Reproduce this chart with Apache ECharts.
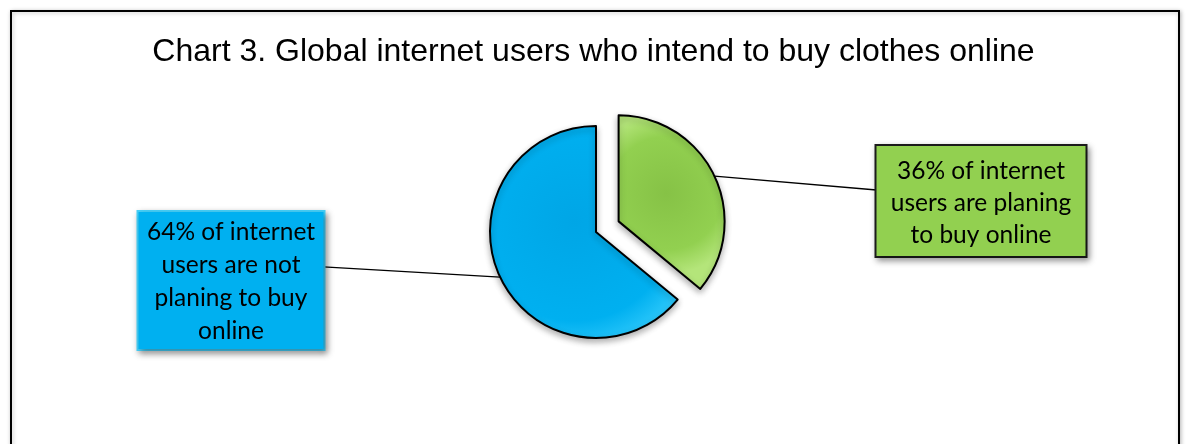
<!DOCTYPE html>
<html>
<head>
<meta charset="utf-8">
<style>
  html, body { margin: 0; padding: 0; background: #ffffff; }
  #chart { width: 1187px; height: 444px; }
</style>
<script src="https://cdn.jsdelivr.net/npm/echarts@6/dist/echarts.min.js"></script>
</head>
<body>
<div id="chart"></div>
<script>
// Share of global internet users by intention to buy clothes online (percent)
const categories = ['Planing to buy online', 'Not planing to buy online'];
const shares = [36, 64];
// Callout text per slice; {v} is replaced with the slice value
const calloutTexts = [
  '{v}% of internet\nusers are planing\nto buy online',
  '{v}% of internet\nusers are not\nplaning to buy\nonline'
];
const titleText = 'Chart 3. Global internet users who intend to buy clothes online';

const sliceColors = [
  { base: '#92D050', light: '#B4E57A', dark: '#86C246' },
  { base: '#00B0F0', light: '#3FD2FF', dark: '#00A6E6' }
];

// Callout box look and placement (cx = box centre, top = box top edge)
const boxStyles = [
  { bg: '#92D050', border: '#1c1c1c', w: 209, h: 96, pad: [9, 0, 5, 0], lh: 32, cx: 981, top: 146 },
  { bg: '#00B0F0', border: '#45CFF8', w: 185, h: 133, pad: [4, 0, 0, 0], lh: 33, cx: 231, top: 212 }
];

const pieCenter = [596, 232];
const pieRadius = 106;
const explodeIndex = 0;     // the slice pulled out of the pie
const explodeDistance = 25;

function sliceFill(c) {
  return {
    type: 'radial', x: 0.45, y: 0.45, r: 0.75,
    colorStops: [
      { offset: 0, color: c.dark },
      { offset: 0.7, color: c.base },
      { offset: 1, color: c.light }
    ]
  };
}

// Direction of the exploded slice: its mid angle, clockwise from 12 o'clock
const total = shares.reduce((a, b) => a + b, 0);
const before = shares.slice(0, explodeIndex).reduce((a, b) => a + b, 0);
const midAngle = (before + shares[explodeIndex] / 2) / total * 2 * Math.PI;
const explodedCenter = [
  pieCenter[0] + explodeDistance * Math.sin(midAngle),
  pieCenter[1] - explodeDistance * Math.cos(midAngle)
];

// Builds the data of one layer: only slice `visibleIndex` is drawn in it
function layerData(visibleIndex) {
  return categories.map((name, i) => {
    if (i !== visibleIndex) {
      return {
        name: name, value: shares[i],
        itemStyle: { color: 'rgba(0,0,0,0)', borderWidth: 0, shadowBlur: 0 },
        label: { show: false }, labelLine: { show: false }
      };
    }
    const b = boxStyles[i];
    return {
      name: name,
      value: shares[i],
      itemStyle: { color: sliceFill(sliceColors[i]) },
      label: {
        formatter: calloutTexts[i].replace('{v}', shares[i]),
        backgroundColor: b.bg,
        borderColor: b.border,
        borderWidth: 2,
        width: b.w,
        height: b.h,
        padding: b.pad,
        lineHeight: b.lh
      }
    };
  });
}

function pieLayer(visibleIndex, center) {
  return {
    type: 'pie',
    center: center,
    radius: [0, pieRadius],
    startAngle: 90,
    clockwise: true,
    avoidLabelOverlap: false,
    silent: true,
    itemStyle: {
      borderColor: '#000000',
      borderWidth: 2,
      shadowBlur: 6,
      shadowColor: 'rgba(0,0,0,0.3)',
      shadowOffsetY: 3
    },
    label: {
      show: true,
      position: 'outside',
      color: '#000000',
      fontFamily: 'Lato, "Open Sans", sans-serif',
      fontSize: 24.5,
      align: 'center',
      shadowBlur: 6,
      shadowColor: 'rgba(0,0,0,0.35)',
      shadowOffsetX: 2,
      shadowOffsetY: 3
    },
    labelLine: {
      show: true,
      lineStyle: { color: '#000000', width: 1.3 }
    },
    emphasis: { disabled: true },
    labelLayout: function (params) {
      const b = boxStyles[params.dataIndex];
      const start = params.labelLinePoints ? params.labelLinePoints[0] : null;
      const boxW = b.w + b.pad[1] + b.pad[3];
      const boxH = b.h + b.pad[0] + b.pad[2];
      const edgeX = start && start[0] > b.cx ? b.cx + boxW / 2 : b.cx - boxW / 2;
      const out = { x: b.cx, y: b.top, align: 'center', verticalAlign: 'top' };
      if (start) {
        out.labelLinePoints = [start, [edgeX, b.top + boxH * 0.4]];
      }
      return out;
    },
    data: layerData(visibleIndex)
  };
}

const chart = echarts.init(document.getElementById('chart'), null, { renderer: 'canvas' });

chart.setOption({
  animation: false,
  backgroundColor: '#ffffff',
  title: {
    text: titleText,
    left: 'center',
    top: 31,
    textStyle: {
      fontFamily: 'Liberation Sans, Arial, sans-serif',
      fontSize: 32,
      fontWeight: 'normal',
      color: '#000000'
    }
  },
  graphic: [{
    type: 'rect',
    z: -10,
    shape: { x: 11, y: 11, width: 1168, height: 450 },
    style: {
      fill: '#ffffff',
      stroke: '#000000',
      lineWidth: 2,
      shadowBlur: 4,
      shadowColor: 'rgba(0,0,0,0.25)',
      shadowOffsetX: 1,
      shadowOffsetY: 1
    },
    silent: true
  }],
  series: [
    pieLayer(1, pieCenter),
    pieLayer(explodeIndex, explodedCenter)
  ]
});
</script>
</body>
</html>
